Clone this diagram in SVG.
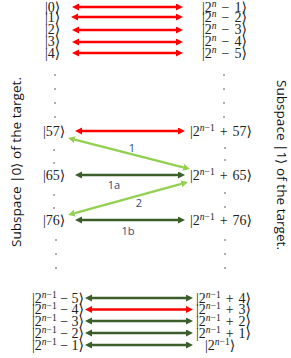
<svg xmlns="http://www.w3.org/2000/svg" width="291" height="358" viewBox="0 0 291 358">
<style>
.m{font-family:"Liberation Serif","DejaVu Serif",serif;font-size:14px;fill:#222;word-spacing:1.5px}
.e{text-anchor:end;word-spacing:0}
.s{font-size:9.5px;word-spacing:0}
.i{font-style:italic}
.lab{font-family:"Open Sans","Liberation Sans",sans-serif;font-size:11px;fill:#2f4b7c;text-anchor:middle}
.side{font-family:"Open Sans","Liberation Sans",sans-serif;font-size:13px;fill:#111}
.r{stroke:#ff0000;stroke-width:2.3;fill:none;marker-start:url(#ar);marker-end:url(#ar)}
.d{stroke:#3b5e2b;stroke-width:2.3;fill:none;marker-start:url(#ad);marker-end:url(#ad)}
.g{stroke:#92d050;stroke-width:2.3;fill:none;marker-start:url(#ag);marker-end:url(#ag)}
.dot{fill:#444}
</style>
<defs>
<marker id="ar" markerUnits="userSpaceOnUse" markerWidth="8" markerHeight="8" refX="0" refY="3.5" orient="auto-start-reverse"><path d="M0,0 L7,3.5 L0,7 z" fill="#ff0000"/></marker>
<marker id="ad" markerUnits="userSpaceOnUse" markerWidth="8" markerHeight="8" refX="0" refY="3.5" orient="auto-start-reverse"><path d="M0,0 L7,3.5 L0,7 z" fill="#3b5e2b"/></marker>
<marker id="ag" markerUnits="userSpaceOnUse" markerWidth="8" markerHeight="8" refX="0" refY="3.5" orient="auto-start-reverse"><path d="M0,0 L7,3.5 L0,7 z" fill="#92d050"/></marker>
</defs>

<g id="side-labels">
<text class="side" transform="translate(21,247) rotate(-90)" textLength="170" lengthAdjust="spacingAndGlyphs">Subspace |0⟩ of the target.</text>
<text class="side" transform="translate(277,80) rotate(90)" textLength="170" lengthAdjust="spacingAndGlyphs">Subspace |1⟩ of the target.</text>
</g>

<g id="left-top">
<text class="m" x="45" y="12">|0⟩</text>
<text class="m" x="45" y="22">|1⟩</text>
<text class="m" x="45" y="34">|2⟩</text>
<text class="m" x="45" y="46">|3⟩</text>
<text class="m" x="45" y="57.5">|4⟩</text>
</g>
<g id="right-top">
<text class="m" x="202" y="12">|2<tspan class="s i" baseline-shift="5">n</tspan> − 1⟩</text>
<text class="m" x="202" y="22">|2<tspan class="s i" baseline-shift="5">n</tspan> − 2⟩</text>
<text class="m" x="202" y="34">|2<tspan class="s i" baseline-shift="5">n</tspan> − 3⟩</text>
<text class="m" x="202" y="46">|2<tspan class="s i" baseline-shift="5">n</tspan> − 4⟩</text>
<text class="m" x="202" y="57.5">|2<tspan class="s i" baseline-shift="5">n</tspan> − 5⟩</text>
</g>

<g id="middle-left">
<text class="m" x="43" y="136">|57⟩</text>
<text class="m" x="43" y="180">|65⟩</text>
<text class="m" x="43" y="225">|76⟩</text>
</g>
<g id="middle-right">
<text class="m" x="190" y="136">|2<tspan class="s" baseline-shift="5"><tspan class="i">n</tspan>−1</tspan> + 57⟩</text>
<text class="m" x="190" y="180">|2<tspan class="s" baseline-shift="5"><tspan class="i">n</tspan>−1</tspan> + 65⟩</text>
<text class="m" x="190" y="225">|2<tspan class="s" baseline-shift="5"><tspan class="i">n</tspan>−1</tspan> + 76⟩</text>
</g>

<g id="left-bottom">
<text class="m e" x="84" y="302.5">|2<tspan class="s" baseline-shift="5"><tspan class="i">n</tspan>−1</tspan> − 5⟩</text>
<text class="m e" x="84" y="314">|2<tspan class="s" baseline-shift="5"><tspan class="i">n</tspan>−1</tspan> − 4⟩</text>
<text class="m e" x="84" y="325.5">|2<tspan class="s" baseline-shift="5"><tspan class="i">n</tspan>−1</tspan> − 3⟩</text>
<text class="m e" x="84" y="337.5">|2<tspan class="s" baseline-shift="5"><tspan class="i">n</tspan>−1</tspan> − 2⟩</text>
<text class="m e" x="84" y="349.5">|2<tspan class="s" baseline-shift="5"><tspan class="i">n</tspan>−1</tspan> − 1⟩</text>
</g>
<g id="right-bottom">
<text class="m" x="196" y="302.5">|2<tspan class="s" baseline-shift="5"><tspan class="i">n</tspan>−1</tspan> + 4⟩</text>
<text class="m" x="196" y="314">|2<tspan class="s" baseline-shift="5"><tspan class="i">n</tspan>−1</tspan> + 3⟩</text>
<text class="m" x="196" y="325.5">|2<tspan class="s" baseline-shift="5"><tspan class="i">n</tspan>−1</tspan> + 2⟩</text>
<text class="m" x="196" y="337.5">|2<tspan class="s" baseline-shift="5"><tspan class="i">n</tspan>−1</tspan> + 1⟩</text>
<text class="m" x="205" y="349.5">|2<tspan class="s" baseline-shift="5"><tspan class="i">n</tspan>−1</tspan>⟩</text>
</g>

<g id="dots">
<circle class="dot" cx="55" cy="75" r="0.8"/><circle class="dot" cx="55" cy="89" r="0.8"/><circle class="dot" cx="55" cy="103" r="0.8"/><circle class="dot" cx="55" cy="117" r="0.8"/>
<circle class="dot" cx="224" cy="75" r="0.8"/><circle class="dot" cx="224" cy="89" r="0.8"/><circle class="dot" cx="224" cy="103" r="0.8"/><circle class="dot" cx="224" cy="117" r="0.8"/>
<circle class="dot" cx="54" cy="150" r="0.8"/><circle class="dot" cx="54" cy="163" r="0.8"/>
<circle class="dot" cx="225" cy="148" r="0.8"/><circle class="dot" cx="225" cy="160" r="0.8"/>
<circle class="dot" cx="54" cy="195" r="0.8"/><circle class="dot" cx="54" cy="208" r="0.8"/>
<circle class="dot" cx="225" cy="193" r="0.8"/><circle class="dot" cx="225" cy="207" r="0.8"/>
<circle class="dot" cx="56" cy="240" r="0.8"/><circle class="dot" cx="56" cy="254" r="0.8"/><circle class="dot" cx="56" cy="268" r="0.8"/>
<circle class="dot" cx="225" cy="240" r="0.8"/><circle class="dot" cx="225" cy="254" r="0.8"/><circle class="dot" cx="225" cy="268" r="0.8"/>
</g>

<g id="connectors">
<line class="r" x1="79" y1="7" x2="176" y2="7"/>
<line class="r" x1="78" y1="17" x2="176" y2="17"/>
<line class="r" x1="79" y1="30" x2="176" y2="30"/>
<line class="r" x1="79" y1="42" x2="176" y2="42"/>
<line class="r" x1="79" y1="53" x2="176" y2="53"/>
<line class="r" x1="82" y1="131" x2="178" y2="131"/>
<line class="d" x1="82" y1="175" x2="178" y2="175"/>
<line class="d" x1="82" y1="220" x2="178" y2="220"/>
<line class="g" x1="74.8" y1="139.7" x2="183.2" y2="167.3"/>
<line class="g" x1="181.25" y1="183.9" x2="74.75" y2="213.1"/>
<line class="d" x1="92" y1="298" x2="186" y2="298"/>
<line class="r" x1="92" y1="309.5" x2="186" y2="309.5"/>
<line class="d" x1="92" y1="321" x2="186" y2="321"/>
<line class="d" x1="92" y1="333" x2="186" y2="333"/>
<line class="d" x1="92" y1="345" x2="186" y2="345"/>
</g>
<g id="connector-labels">
<text class="lab" x="132" y="152">1</text>
<text class="lab" x="114" y="189">1a</text>
<text class="lab" x="139" y="207">2</text>
<text class="lab" x="128" y="235">1b</text>
</g>
</svg>
